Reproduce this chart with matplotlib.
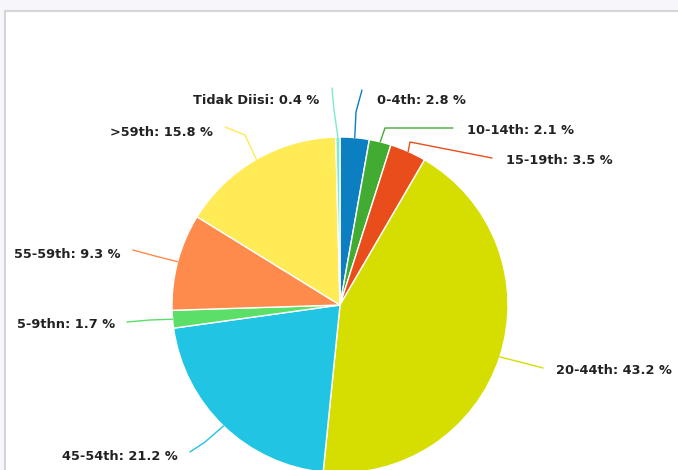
import numpy as np
import matplotlib.pyplot as plt
from matplotlib.patches import Rectangle

# slices, clockwise from 12 o'clock
labels = ['0-4th', '10-14th', '15-19th', '20-44th', '45-54th',
          '5-9thn', '55-59th', '>59th', 'Tidak Diisi']
values = [2.8, 2.1, 3.5, 43.2, 21.2, 1.7, 9.3, 15.8, 0.4]
colors = ['#0b7fc1', '#42ab32', '#ea4d1c', '#d6dd00', '#22c4e3',
          '#5bdf68', '#fe8a4b', '#feeb56', '#7de9cf']

W, H = 678, 470
cx, cy, R = 340, 305, 168   # pixel layout of the pie (y from top)

# connector elbow / end and label anchor (pixels, y from top), label alignment
conn = {
    '0-4th':       ([(356, 112), (362, 90)], (377, 100), 'left'),
    '10-14th':     ([(385, 128), (453, 128)], (467, 130), 'left'),
    '15-19th':     ([(410, 142), (492, 158)], (506, 160), 'left'),
    '20-44th':     ([(520, 362), (543, 368)], (556, 370), 'left'),
    '45-54th':     ([(205, 442), (190, 452)], (178, 457), 'right'),
    '5-9thn':      ([(150, 320), (127, 322)], (115, 325), 'right'),
    '55-59th':     ([(155, 256), (133, 250)], (121, 254), 'right'),
    '>59th':       ([(245, 135), (225, 127)], (213, 132), 'right'),
    'Tidak Diisi': ([(334, 110), (332, 88)], (319, 100), 'right'),
}

fig = plt.figure(figsize=(W / 100, H / 100), dpi=100)
fig.patch.set_facecolor('#f6f6fb')
ax = fig.add_axes([0, 0, 1, 1])

wedges, _ = ax.pie(values, colors=colors, startangle=90, counterclock=False,
                   center=(cx, H - cy), radius=R,
                   wedgeprops=dict(edgecolor='white', linewidth=1))

# pie() resets the limits, so set them afterwards
ax.set_xlim(0, W)
ax.set_ylim(0, H)
ax.set_aspect('equal')
ax.axis('off')

# white panel
ax.add_patch(Rectangle((5, -10), W + 20, H - 11 + 10, facecolor='white',
                       edgecolor='#d4d4d8', lw=1.5, zorder=0))

for w, lab, val, col in zip(wedges, labels, values, colors):
    mid = np.deg2rad((w.theta1 + w.theta2) / 2)
    sx = cx + R * np.cos(mid)
    sy = (H - cy) + R * np.sin(mid)
    pts, (tx, ty), ha = conn[lab]
    xs = [sx] + [p[0] for p in pts]
    ys = [sy] + [H - p[1] for p in pts]
    ax.plot(xs, ys, color=col, lw=1, solid_capstyle='round', zorder=3)
    ax.text(tx, H - ty, f'{lab}: {val} %', ha=ha, va='center',
            fontsize=9.3, fontweight='bold', color='#222222',
            family='DejaVu Sans')

fig.savefig('out.png', dpi=100, facecolor=fig.get_facecolor())
